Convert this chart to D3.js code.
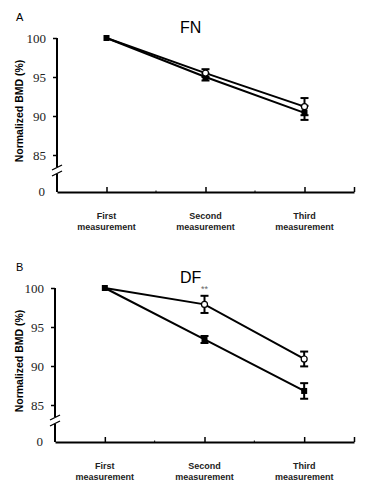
<!DOCTYPE html>
<html><head><meta charset="utf-8">
<script src="https://cdn.jsdelivr.net/npm/d3@7"></script>
<style>body{margin:0;background:#fff}</style></head>
<body><svg id="c" width="379" height="501"></svg>
<script>
const categoryLines = [["First","measurement"],["Second","measurement"],["Third","measurement"]];
const yTicks = [85, 90, 95, 100];
const fnOpen = [100, 95.5, 91.2];
const fnOpenErr = [0, 0.5, 1.1];
const fnFilled = [100, 95.0, 90.4];
const fnFilledErr = [0, 0.45, 0.9];
const dfOpen = [100, 97.9, 90.9];
const dfOpenErr = [0, 1.1, 0.95];
const dfFilled = [100, 93.4, 86.8];
const dfFilledErr = [0, 0.45, 1.0];
const panelLetters = ["A", "B"];
const panelTitles = ["FN", "DF"];
const yLabel = "Normalized BMD (%)";

const svg = d3.select("#c");
const panels = [
  {oy: 0, ax: 57, letter: panelLetters[0], title: panelTitles[0], open: fnOpen, openErr: fnOpenErr, filled: fnFilled, filledErr: fnFilledErr, stars: false},
  {oy: 250, ax: 55, letter: panelLetters[1], title: panelTitles[1], open: dfOpen, openErr: dfOpenErr, filled: dfFilled, filledErr: dfFilledErr, stars: true}
];

panels.forEach(p => {
  const g = svg.append("g").attr("transform", `translate(0,${p.oy})`);
  const x = d3.scaleLinear().domain([0, 6]).range([p.ax, 354]);
  const y = d3.scaleLinear().domain([85, 100]).range([155, 38]);
  const zeroY = y(85) + 37;
  const brk = y(85) + 12;
  const catX = i => x(1 + 2 * i);

  g.append("text").attr("x", 16).attr("y", 21).attr("font-family", "Liberation Sans, Arial").attr("font-size", 11).text(p.letter);
  g.append("text").attr("x", 180).attr("y", 33).attr("font-family", "Liberation Sans, Arial").attr("font-size", 16).text(p.title);

  const ya = d3.axisLeft(y).tickValues(yTicks).tickSize(4).tickFormat(d3.format("d"));
  const yg = g.append("g").attr("transform", `translate(${p.ax},0)`).call(ya);
  yg.select(".domain").remove();
  yg.selectAll(".tick line").attr("stroke", "#000").attr("stroke-width", 1.5);
  yg.selectAll(".tick text").attr("x", -11).attr("font-family", "Liberation Serif, Times New Roman, serif").attr("font-size", 13).attr("fill", "#222");
  g.append("line").attr("x1", p.ax).attr("x2", p.ax).attr("y1", y(100)).attr("y2", brk).attr("stroke", "#000").attr("stroke-width", 2);
  g.append("line").attr("x1", p.ax).attr("x2", p.ax).attr("y1", brk + 7).attr("y2", zeroY).attr("stroke", "#000").attr("stroke-width", 2);
  [0, 6].forEach(d => g.append("line").attr("x1", p.ax - 5).attr("x2", p.ax + 5).attr("y1", brk + 3 + d).attr("y2", brk - 2 + d).attr("stroke", "#000").attr("stroke-width", 1.3));
  g.append("text").attr("x", p.ax - 12).attr("y", zeroY + 4).attr("text-anchor", "end").attr("font-family", "Liberation Serif, Times New Roman, serif").attr("font-size", 13).attr("fill", "#222").text("0");
  g.append("text").attr("transform", `translate(23,${(y(100) + zeroY) / 2 - 4}) rotate(-90)`).attr("text-anchor", "middle").attr("font-family", "Liberation Sans, Arial").attr("font-weight", "bold").attr("font-size", 10.5).text(yLabel);

  const xa = d3.axisBottom(x).tickValues([1, 3, 5, 6]).tickSizeInner(-5).tickSizeOuter(0).tickFormat("");
  const xg = g.append("g").attr("transform", `translate(0,${zeroY})`).call(xa);
  xg.select(".domain").attr("stroke", "#000").attr("stroke-width", 2);
  xg.selectAll(".tick line").attr("stroke", "#000").attr("stroke-width", 1.5);
  [2, 4].forEach(v => g.append("line").attr("x1", x(v)).attr("x2", x(v)).attr("y1", zeroY).attr("y2", zeroY - 1.5).attr("stroke", "#000"));
  categoryLines.forEach((lines, i) => {
    lines.forEach((t, j) => g.append("text").attr("x", catX(i)).attr("y", zeroY + 27 + j * 11).attr("text-anchor", "middle")
      .attr("font-family", "Liberation Sans, Arial").attr("font-weight", "bold").attr("font-size", 9).attr("fill", "#222").text(t));
  });

  const line = d3.line().x((d, i) => catX(i)).y(d => y(d));
  [p.open, p.filled].forEach(s => g.append("path").attr("d", line(s)).attr("fill", "none").attr("stroke", "#000").attr("stroke-width", 2));

  const drawErr = (vals, errs) => vals.forEach((v, i) => {
    if (!errs[i]) return;
    const cx = catX(i);
    g.append("line").attr("x1", cx).attr("x2", cx).attr("y1", y(v + errs[i])).attr("y2", y(v - errs[i])).attr("stroke", "#000").attr("stroke-width", 2);
    [v + errs[i], v - errs[i]].forEach(e => g.append("line").attr("x1", cx - 4).attr("x2", cx + 4).attr("y1", y(e)).attr("y2", y(e)).attr("stroke", "#000").attr("stroke-width", 2));
  });
  drawErr(p.open, p.openErr);
  drawErr(p.filled, p.filledErr);

  g.selectAll(".fm").data(p.filled).enter().append("rect")
    .attr("x", (d, i) => catX(i) - 3).attr("y", d => y(d) - 3).attr("width", 6).attr("height", 6).attr("fill", "#000");
  g.selectAll(".om").data(p.open).enter().filter((d, i) => i > 0).append("circle")
    .attr("cx", (d, i) => catX(i + 1)).attr("cy", d => y(d)).attr("r", 3).attr("fill", "#fff").attr("stroke", "#000").attr("stroke-width", 1.2);

  if (p.stars) {
    g.append("text").attr("x", catX(1)).attr("y", y(p.open[1] + p.openErr[1]) - 4).attr("text-anchor", "middle")
      .attr("font-family", "Liberation Sans, Arial").attr("font-size", 9).attr("fill", "#666").text("**");
  }
});
</script></body></html>
